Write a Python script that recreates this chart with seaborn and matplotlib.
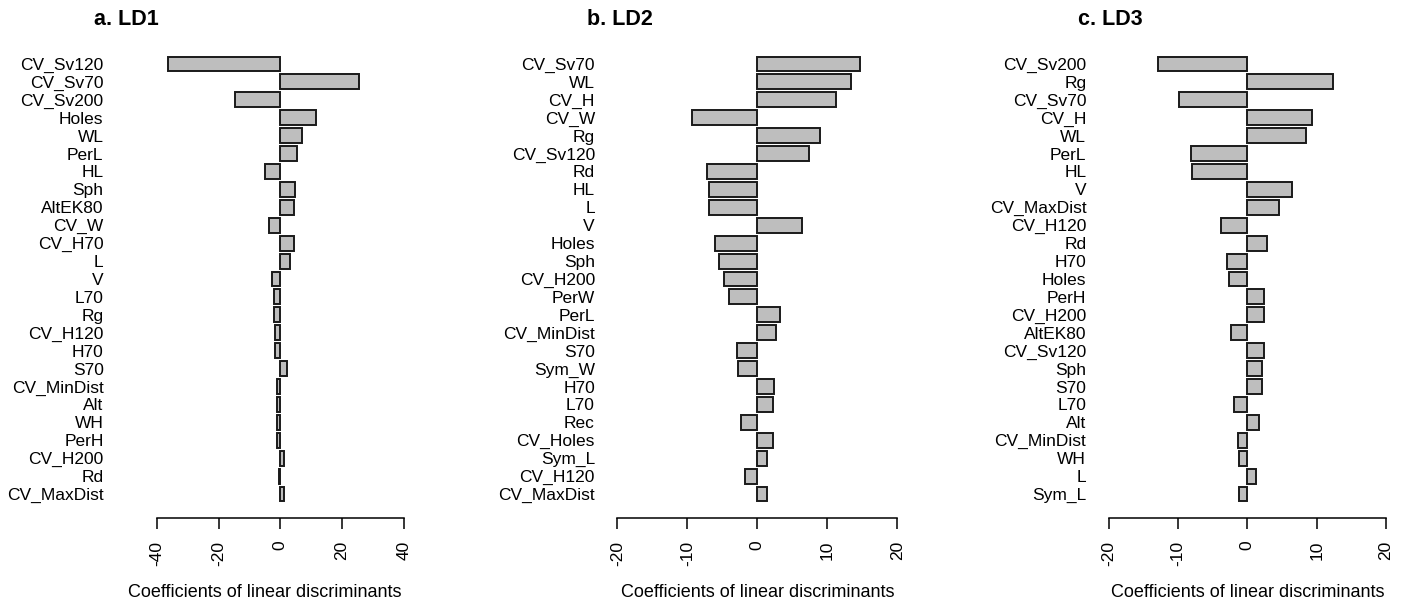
import matplotlib
matplotlib.use("Agg")
import matplotlib.pyplot as plt
import seaborn as sns
import pandas as pd

# ---- data ----
ld1_names = ["CV_Sv120", "CV_Sv70", "CV_Sv200", "Holes", "WL", "PerL", "HL", "Sph",
             "AltEK80", "CV_W", "CV_H70", "L", "V", "L70", "Rg", "CV_H120", "H70",
             "S70", "CV_MinDist", "Alt", "WH", "PerH", "CV_H200", "Rd", "CV_MaxDist"]
ld1_values = [-36.3, 25.5, -14.6, 11.4, 7.1, 5.3, -4.8, 4.8, 4.4, -3.7, 4.4, 3.2,
              -2.7, -2.1, -2.0, -1.7, -1.6, 2.2, -1.1, -1.0, -1.0, -1.0, 1.1, -0.3, 1.1]

ld2_names = ["CV_Sv70", "WL", "CV_H", "CV_W", "Rg", "CV_Sv120", "Rd", "HL", "L", "V",
             "Holes", "Sph", "CV_H200", "PerW", "PerL", "CV_MinDist", "S70", "Sym_W",
             "H70", "L70", "Rec", "CV_Holes", "Sym_L", "CV_H120", "CV_MaxDist"]
ld2_values = [14.6, 13.4, 11.2, -9.3, 8.9, 7.4, -7.2, -6.9, -6.9, 6.4, -6.0, -5.5,
              -4.8, -4.1, 3.3, 2.6, -2.9, -2.7, 2.4, 2.2, -2.4, 2.2, 1.4, -1.7, 1.4]

ld3_names = ["CV_Sv200", "Rg", "CV_Sv70", "CV_H", "WL", "PerL", "HL", "V", "CV_MaxDist",
             "CV_H120", "Rd", "H70", "Holes", "PerH", "CV_H200", "AltEK80", "CV_Sv120",
             "Sph", "S70", "L70", "Alt", "CV_MinDist", "WH", "L", "Sym_L"]
ld3_values = [-12.9, 12.4, -9.8, 9.3, 8.4, -8.1, -7.9, 6.4, 4.5, -3.8, 2.9, -2.9,
              -2.6, 2.4, 2.4, -2.4, 2.4, 2.1, 2.1, -1.9, 1.7, -1.4, -1.2, 1.2, -1.2]

titles = ["a. LD1", "b. LD2", "c. LD3"]
xlabel = "Coefficients of linear discriminants"
ticks_a = [-40, -20, 0, 20, 40]
ticks_bc = [-20, -10, 0, 10, 20]

# ---- style ----
sns.set_style("white")
plt.rcParams["font.family"] = ["Liberation Sans", "DejaVu Sans"]
plt.rcParams["text.color"] = "black"
plt.rcParams["axes.labelcolor"] = "black"
plt.rcParams["xtick.color"] = "black"
plt.rcParams["ytick.color"] = "black"

W, H = 1411, 610
fig = plt.figure(figsize=(W / 100, H / 100), dpi=100)

bottom = (H - 518.3) / H
height = (518.3 - 39.7) / H
panels = [
    (ld1_names, ld1_values, 114.7, 300.3, (-53.6, 43.6), ticks_a, 94),
    (ld2_names, ld2_values, 606.1, 302.4, (-21.6, 21.6), ticks_bc, 587),
    (ld3_names, ld3_values, 1097.4, 299.8, (-21.6, 21.6), ticks_bc, 1078),
]

for (names, vals, left_px, width_px, xlim, ticks, title_x), title in zip(panels, titles):
    ax = fig.add_axes([left_px / W, bottom, width_px / W, height])
    df = pd.DataFrame({"name": names, "value": vals})
    sns.barplot(data=df, x="value", y="name", orient="h", ax=ax,
                color="#bebebe", edgecolor="#1a1a1a", linewidth=1.4,
                width=0.833, saturation=1)
    ax.set_xlim(*xlim)
    ax.set_ylim(len(names) - 1 + 1.356, -1.356)
    for s in ["left", "top", "right"]:
        ax.spines[s].set_visible(False)
    ax.spines["bottom"].set_bounds(ticks[0], ticks[-1])
    ax.spines["bottom"].set_linewidth(1.1)
    ax.spines["bottom"].set_color("black")
    ax.set_xticks(ticks)
    ax.set_xticklabels([str(t) for t in ticks], rotation=90, fontsize=12.5)
    ax.tick_params(axis="x", direction="out", length=8, width=1.1, pad=8,
                   color="black", bottom=True)
    ax.tick_params(axis="y", length=0, pad=8, labelsize=12.5)
    ax.set_ylabel("")
    ax.set_xlabel(xlabel, fontsize=13, labelpad=13, color="black")
    ax.grid(False)
    fig.text(title_x / W, 1 - 19.5 / H, title, fontsize=15.5, fontweight="bold",
             ha="left", va="center", color="black")

fig.savefig("out.png", dpi=100)
